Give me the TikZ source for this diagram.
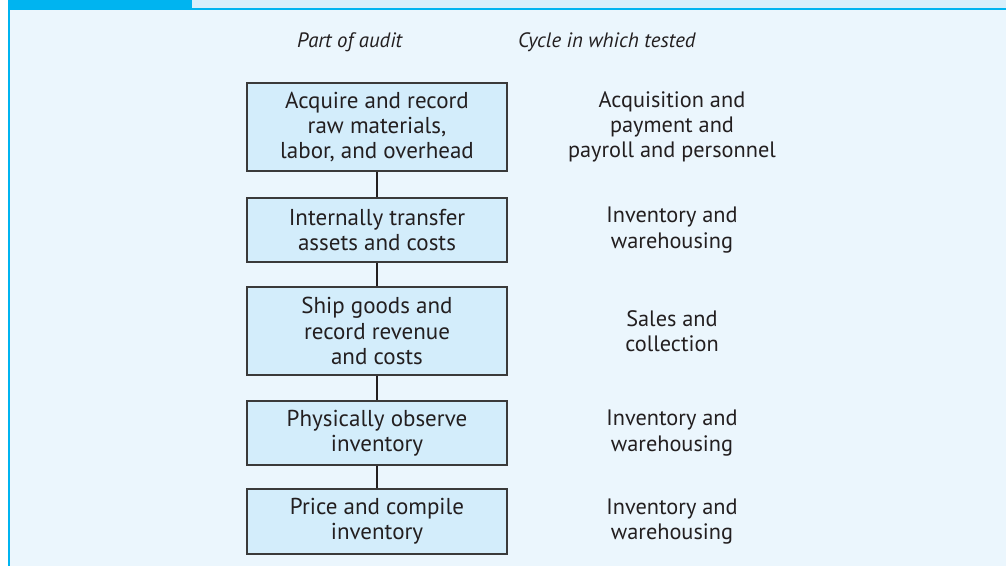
\documentclass[tikz,border=0pt]{standalone}
\usepackage{fontspec}
\setmainfont{PT Sans}
\definecolor{tabblue}{HTML}{00B4F0}
\definecolor{striplight}{HTML}{D8EFFB}
\definecolor{bglight}{HTML}{EBF6FD}
\definecolor{boxfill}{HTML}{D3EDFB}
\definecolor{boxline}{HTML}{3A3A3A}
\definecolor{txt}{HTML}{231F20}
\begin{document}
\begin{tikzpicture}[x=1pt,y=-1pt,
  auditbox/.style={draw=boxline, line width=1.2pt, fill=boxfill, minimum width=260pt, align=center, inner sep=0pt, font=\fontsize{23}{25.3}\selectfont, text=txt},
  cyclelabel/.style={align=center, font=\fontsize{22.3}{25.3}\selectfont, text=txt},
  header/.style={font=\fontsize{20.8}{25}\selectfont\itshape, text=txt, anchor=west, inner sep=0pt},
  link/.style={draw=txt, line width=2pt}]
\useasboundingbox (0,0) rectangle (1006,566);
\fill[white] (0,0) rectangle (1006,566);
\fill[bglight] (8,9) rectangle (1006,566);
\fill[striplight] (192,0) rectangle (1006,8.5);
\fill[tabblue] (8,0) rectangle (192,9.5);
\draw[tabblue, line width=1.5pt] (8,9.2) -- (1006,9.2);
\draw[tabblue, line width=1.5pt] (9,9) -- (9,566);
\node[header] (h1) at (297,42) {Part of audit};
\node[header] (h2) at (518,42) {Cycle in which tested};
\node[auditbox, minimum height=88pt] (b1) at (377,127) {Acquire and record\\raw materials,\\labor, and overhead};
\node[auditbox, minimum height=64pt] (b2) at (377,230) {Internally transfer\\assets and costs};
\node[auditbox, minimum height=88pt] (b3) at (377,331) {Ship goods and\\record revenue\\and costs};
\node[auditbox, minimum height=64pt] (b4) at (377,433) {Physically observe\\inventory};
\node[auditbox, minimum height=65pt] (b5) at (377,521.5) {Price and compile\\inventory};
\draw[link] (b1.south) -- (b2.north);
\draw[link] (b2.south) -- (b3.north);
\draw[link] (b3.south) -- (b4.north);
\draw[link] (b4.south) -- (b5.north);
\node[cyclelabel] (c1) at (672,127) {Acquisition and\\payment and\\payroll and personnel};
\node[cyclelabel] (c2) at (672,230) {Inventory and\\warehousing};
\node[cyclelabel] (c3) at (672,331) {Sales and\\collection};
\node[cyclelabel] (c4) at (672,433) {Inventory and\\warehousing};
\node[cyclelabel] (c5) at (672,521.5) {Inventory and\\warehousing};
\end{tikzpicture}
\end{document}
